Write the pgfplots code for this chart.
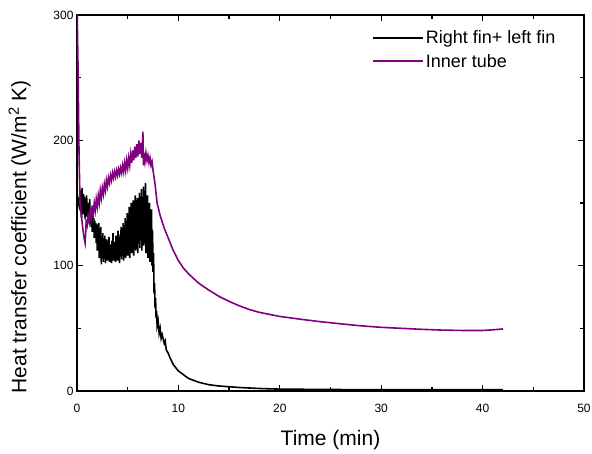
\documentclass[border=0pt]{standalone}
\usepackage{pgfplots}
\pgfplotsset{compat=1.18}
\usepackage{fontspec}
\setmainfont{Liberation Sans}
\definecolor{purp}{RGB}{128,0,128}
\begin{document}
\begin{tikzpicture}
\begin{axis}[
  at={(0,0)}, anchor=south west,
  scale only axis, width=507pt, height=376pt,
  xmin=0, xmax=50, ymin=0, ymax=300,
  xtick={0,10,20,30,40,50}, ytick={0,100,200,300},
  minor xtick={5,15,25,35,45}, minor ytick={50,150,250},
  tick align=inside, major tick length=6pt, minor tick length=4pt,
  tick style={black, line width=1.3pt},
  axis line style={line width=1.5pt},
  /pgf/number format/assume math mode=true,
  ticklabel style={font=\fontsize{12}{14}\selectfont},
  xticklabel style={yshift=-10pt},
  xlabel={Time (min)},
  ylabel={Heat transfer coefficient (W/m\textsuperscript{2} K)},
  x label style={at={(axis description cs:0.5,-0.13)}, anchor=center, font=\fontsize{21}{24}\selectfont},
  y label style={at={(axis description cs:-0.113,0.41)}, anchor=center, font=\fontsize{21}{24}\selectfont},
  legend style={at={(axis description cs:0.576,0.97)}, anchor=north west, draw=none, fill=none,
    font=\fontsize{18}{20}\selectfont, row sep=5pt},
  legend cell align=left,
  legend image code/.code={\draw[#1] (0pt,0pt) -- (50pt,0pt);},
  clip=true,
]
\addplot[black, line width=1.6pt] coordinates {
(0.05,155)(0.15,150)(0.2,148)(0.25,154)
(0.30,160)(0.35,145)(0.40,158)(0.45,138)(0.50,162)(0.55,150)(0.60,141)(0.65,157)(0.70,146)(0.75,155)
(0.80,137)(0.85,152)(0.90,143)(0.95,156)(1.00,139)(1.05,150)(1.10,134)(1.15,148)(1.20,140)(1.25,153)
(1.30,133)(1.35,145)(1.40,131)(1.45,142)(1.50,127)(1.55,140)(1.60,130)(1.65,138)(1.70,122)(1.75,136)
(1.80,126)(1.85,134)(1.90,118)(1.95,133)(2.00,112)(2.05,130)(2.10,120)(2.15,134)(2.20,106)(2.25,127)
(2.30,112)(2.35,131)(2.40,101)(2.45,122)(2.50,108)(2.55,126)(2.60,103)(2.65,118)(2.70,110)(2.75,124)
(2.80,102)(2.85,116)(2.90,106)(2.95,121)(3.00,104)(3.05,113)(3.10,107)(3.15,123)(3.20,103)(3.25,117)
(3.30,105)(3.35,112)(3.40,102)(3.45,120)(3.50,108)(3.55,126)(3.60,104)(3.65,115)(3.70,106)(3.75,119)
(3.80,103)(3.85,124)(3.90,109)(3.95,117)(4.00,104)(4.05,128)(4.10,106)(4.15,119)(4.20,102)(4.25,125)
(4.30,108)(4.35,131)(4.40,105)(4.45,122)(4.50,110)(4.55,134)(4.60,104)(4.65,127)(4.70,112)(4.75,138)
(4.80,106)(4.85,130)(4.90,115)(4.95,142)(5.00,108)(5.05,136)(5.10,118)(5.15,147)(5.20,106)(5.25,139)
(5.30,120)(5.35,150)(5.40,110)(5.45,144)(5.50,124)(5.55,152)(5.60,108)(5.65,141)(5.70,117)(5.75,156)
(5.80,112)(5.85,148)(5.90,126)(5.95,154)(6.00,110)(6.05,145)(6.10,120)(6.15,158)(6.20,114)(6.25,150)
(6.30,128)(6.35,161)(6.40,112)(6.45,146)(6.50,122)(6.55,163)(6.60,116)(6.65,152)(6.70,130)(6.75,166)
(6.80,110)(6.85,148)(6.90,120)(6.95,156)(7.00,106)(7.05,142)(7.10,115)(7.15,150)(7.20,103)(7.25,138)
(7.30,110)(7.35,145)(7.40,100)(7.45,128)(7.50,95)(7.55,110)(7.60,78)(7.65,86)(7.70,66)(7.75,74)
(7.80,58)(7.85,64)(7.90,52)(8.0,56)(8.1,46)(8.2,50)(8.3,42)(8.4,45)(8.6,38)(8.7,40)
(8.8,33)(9.0,30)(9.2,26)(9.5,21)(10,16)(10.5,13)(11,10)(12,7)(13,5)(14,4)
(16,2.8)(18,2)(20,1.5)(25,1.2)(30,1)(35,1)(42,1)
};
\addlegendentry{Right fin+ left fin}
\addplot[purp, line width=1.6pt] coordinates {
(0,310)(0.1,260)(0.2,190)(0.3,150)(0.4,142)(0.5,135)(0.6,128)(0.7,122)(0.8,118)(0.85,125)
(0.9,135)(1.0,132)(1.1,140)(1.2,135)(1.3,144)(1.4,138)(1.5,148)(1.6,141)(1.7,150)(1.8,144)
(1.9,153)(2.0,147)(2.1,156)(2.2,150)(2.3,160)(2.4,154)(2.5,162)(2.6,157)(2.7,165)(2.8,160)
(2.9,168)(3.0,163)(3.1,170)(3.2,166)(3.3,172)(3.4,168)(3.5,174)(3.6,170)(3.7,175)(3.8,171)
(3.9,176)(4.0,172)(4.1,177)(4.2,173)(4.3,178)(4.4,174)(4.5,180)(4.6,175)(4.7,182)(4.8,176)
(4.9,184)(5.0,178)(5.1,186)(5.2,180)(5.3,189)(5.4,182)(5.5,192)(5.6,184)(5.7,195)(5.8,186)
(5.9,197)(6.0,187)(6.1,200)(6.2,189)(6.3,198)(6.4,186)(6.5,207)(6.55,180)(6.6,190)(6.7,183)
(6.8,190)(6.9,184)(7.0,188)(7.1,182)(7.2,186)(7.3,180)(7.4,183)(7.5,176)(7.7,165)(7.9,150)
(8.2,140)(8.6,130)(9.0,122)(9.5,112)(10,104)(10.5,98)(11,93.5)(12,86)(13,80.5)(14,75.5)
(15,71.5)(16,68)(17,65)(18,62.7)(20,59.5)(22,57.3)(24,55.3)(26,53.6)(28,52)(30,50.8)(32,50)
(34,49.2)(36,48.6)(38,48.3)(40,48.3)(41,48.8)(42,49.5)
};
\addlegendentry{Inner tube}
\end{axis}
\pgfresetboundingbox
\path[use as bounding box] (-77pt,-62pt) rectangle (515pt,391pt);
\end{tikzpicture}
\end{document}
